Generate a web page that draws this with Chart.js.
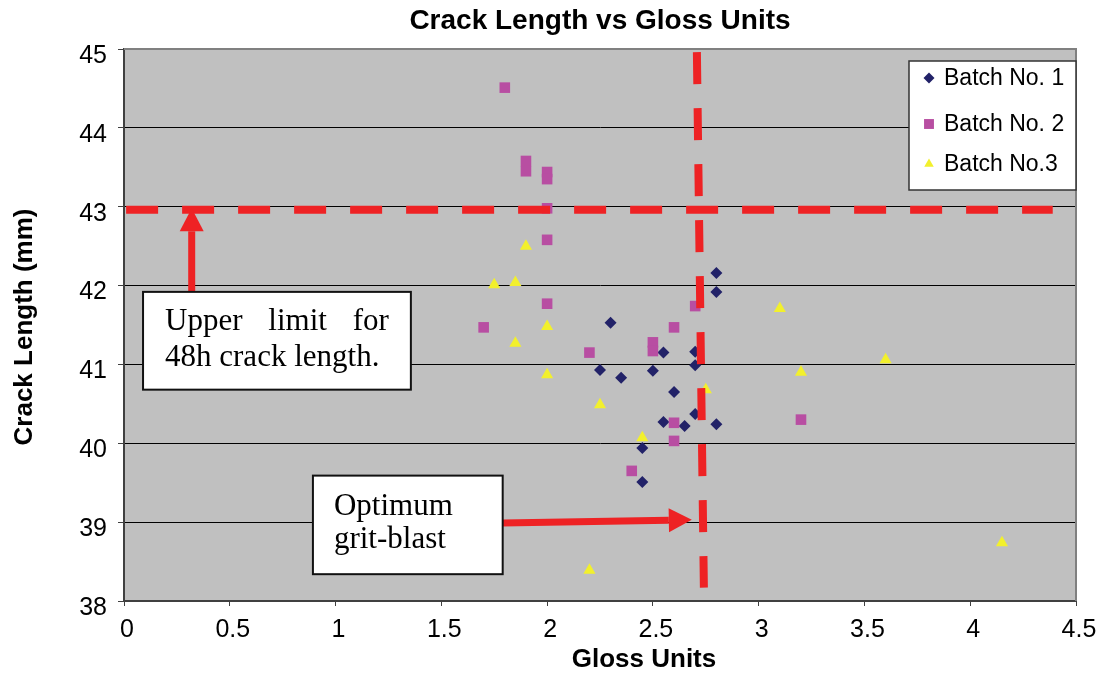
<!DOCTYPE html>
<html>
<head>
<meta charset="utf-8">
<script src="https://cdn.jsdelivr.net/npm/chart.js@4/dist/chart.umd.min.js"></script>
<style>
body { margin: 0; background: #fff; }
</style>
</head>
<body>
<canvas id="crackChart" width="1110" height="677"></canvas>
<script>
// values
var seriesNames = ['Batch No. 1', 'Batch No. 2', 'Batch No.3'];

var batch1Gloss = [2.3, 2.25, 2.35, 2.5, 2.55, 2.7, 2.7, 2.6, 2.55, 2.65, 2.7, 2.8, 2.45, 2.45, 2.8, 2.8];
var batch1Crack = [41.53, 40.93, 40.83, 40.92, 41.15, 41.16, 40.99, 40.65, 40.27, 40.22, 40.37, 40.24, 39.94, 39.51, 42.16, 41.92];

var batch2Gloss = [1.8, 1.9, 1.9, 2.0, 2.0, 2.0, 2.0, 2.0, 1.7, 2.2, 2.5, 2.5, 2.6, 2.7, 2.6, 2.6, 2.4, 3.2];
var batch2Crack = [44.51, 43.58, 43.45, 43.44, 43.35, 42.98, 42.58, 41.77, 41.47, 41.15, 41.28, 41.17, 41.47, 41.74, 40.26, 40.03, 39.65, 40.30];

var batch3Gloss = [1.9, 1.75, 1.85, 2.0, 1.85, 2.0, 2.25, 2.45, 2.75, 2.2, 3.1, 3.2, 3.6, 4.15];
var batch3Crack = [42.50, 42.01, 42.04, 41.48, 41.27, 40.87, 40.49, 40.07, 40.68, 38.39, 41.71, 40.90, 41.06, 38.74];

var upperLimit = 42.96;

function toPoints(xs, ys) {
    var pts = [];
    for (var i = 0; i < xs.length; i++) {
        pts.push({x: xs[i], y: ys[i]});
    }
    return pts;
}

var navy = '#222268';
var pink = '#b84ea2';
var yellow = '#f2f02c';
var red = '#ee2224';

function drawMarker(ctx, style, x, y, r, color) {
    ctx.fillStyle = color;
    ctx.beginPath();
    if (style == 'rectRot') {
        ctx.moveTo(x, y - r); ctx.lineTo(x + r, y); ctx.lineTo(x, y + r); ctx.lineTo(x - r, y);
    } else if (style == 'rect') {
        var s = r * Math.SQRT1_2;
        ctx.rect(x - s, y - s, 2 * s, 2 * s);
    } else {
        ctx.moveTo(x, y - r);
        ctx.lineTo(x + r * 0.866, y + r / 2);
        ctx.lineTo(x - r * 0.866, y + r / 2);
    }
    ctx.closePath();
    ctx.fill();
}

function drawArrow(ctx, x1, y1, x2, y2) {
    var ang = Math.atan2(y2 - y1, x2 - x1);
    var headLen = 23, headHalf = 12;
    var bx = x2 - Math.cos(ang) * headLen, by = y2 - Math.sin(ang) * headLen;
    ctx.strokeStyle = red;
    ctx.fillStyle = red;
    ctx.lineWidth = 7;
    ctx.lineCap = 'butt';
    ctx.setLineDash([]);
    ctx.beginPath();
    ctx.moveTo(x1, y1);
    ctx.lineTo(bx, by);
    ctx.stroke();
    ctx.beginPath();
    ctx.moveTo(x2, y2);
    ctx.lineTo(bx - Math.sin(ang) * headHalf, by + Math.cos(ang) * headHalf);
    ctx.lineTo(bx + Math.sin(ang) * headHalf, by - Math.cos(ang) * headHalf);
    ctx.closePath();
    ctx.fill();
}

function drawBox(ctx, l, t, r, b) {
    ctx.fillStyle = '#fff';
    ctx.fillRect(l, t, r - l, b - t);
    ctx.strokeStyle = '#111';
    ctx.lineWidth = 2;
    ctx.strokeRect(l, t, r - l, b - t);
}

var decor = {
    id: 'decor',
    beforeDraw: function(chart) {
        var ctx = chart.ctx, a = chart.chartArea;
        ctx.save();
        ctx.fillStyle = '#fff';
        ctx.fillRect(0, 0, chart.width, chart.height);
        ctx.fillStyle = '#c0c0c0';
        ctx.fillRect(a.left, a.top, a.right - a.left, a.bottom - a.top);
        ctx.restore();
    },
    afterDraw: function(chart) {
        var ctx = chart.ctx, a = chart.chartArea;
        var xs = chart.scales.x, ys = chart.scales.y;
        ctx.save();

        // top and right edge of plot area
        ctx.strokeStyle = '#808080';
        ctx.lineWidth = 2;
        ctx.beginPath();
        ctx.moveTo(a.left, a.top);
        ctx.lineTo(a.right, a.top);
        ctx.lineTo(a.right, a.bottom);
        ctx.stroke();

        // dashed limit lines
        ctx.strokeStyle = red;
        ctx.lineWidth = 8;
        ctx.lineCap = 'butt';
        ctx.setLineDash([32, 24]);
        ctx.beginPath();
        ctx.moveTo(xs.getPixelForValue(0.01), ys.getPixelForValue(upperLimit));
        ctx.lineTo(xs.getPixelForValue(4.39), ys.getPixelForValue(upperLimit));
        ctx.stroke();
        ctx.beginPath();
        ctx.moveTo(xs.getPixelForValue(2.708), ys.getPixelForValue(44.96));
        ctx.lineTo(xs.getPixelForValue(2.741), ys.getPixelForValue(38.17));
        ctx.stroke();

        // arrows
        drawArrow(ctx, xs.getPixelForValue(0.32), ys.getPixelForValue(41.92),
                  xs.getPixelForValue(0.32), ys.getPixelForValue(42.98));
        drawArrow(ctx, xs.getPixelForValue(1.79), ys.getPixelForValue(38.99),
                  xs.getPixelForValue(2.684), ys.getPixelForValue(39.03));

        // text boxes
        var b1l = xs.getPixelForValue(0.09), b1r = xs.getPixelForValue(1.356);
        var b1t = ys.getPixelForValue(41.92), b1b = ys.getPixelForValue(40.68);
        drawBox(ctx, b1l, b1t, b1r, b1b);
        ctx.fillStyle = '#000';
        ctx.font = '31px "Liberation Serif", serif';
        ctx.textBaseline = 'alphabetic';
        ctx.textAlign = 'left';
        var words = ['Upper', 'limit', 'for'];
        var tl = b1l + 22, tr = b1r - 22;
        var wsum = 0;
        words.forEach(function(w) { wsum += ctx.measureText(w).width; });
        var gap = (tr - tl - wsum) / (words.length - 1);
        var wx = tl;
        words.forEach(function(w) {
            ctx.fillText(w, wx, b1t + 38);
            wx += ctx.measureText(w).width + gap;
        });
        ctx.fillText('48h crack length.', tl, b1t + 74);

        var b2l = xs.getPixelForValue(0.893), b2r = xs.getPixelForValue(1.79);
        var b2t = ys.getPixelForValue(39.59), b2b = ys.getPixelForValue(38.34);
        drawBox(ctx, b2l, b2t, b2r, b2b);
        ctx.fillStyle = '#000';
        ctx.fillText('Optimum', b2l + 21, b2t + 39);
        ctx.fillText('grit-blast', b2l + 21, b2t + 72);

        // legend
        var ll = a.right - 167, lt = a.top + 12;
        ctx.fillStyle = '#fff';
        ctx.fillRect(ll, lt, 167, 129);
        ctx.strokeStyle = '#333';
        ctx.lineWidth = 1.5;
        ctx.strokeRect(ll, lt, 167, 129);
        var rowY = [17, 63, 103];
        var sets = chart.data.datasets;
        ctx.font = '23px "Liberation Sans", Arial, sans-serif';
        ctx.textBaseline = 'middle';
        for (var i = 0; i < sets.length; i++) {
            drawMarker(ctx, sets[i].pointStyle, ll + 20, lt + rowY[i], sets[i].pointStyle == 'rect' ? 7 : 5.5, sets[i].backgroundColor);
            ctx.fillStyle = '#000';
            ctx.fillText(sets[i].label, ll + 35, lt + rowY[i] + 1);
        }

        // titles
        ctx.textAlign = 'center';
        ctx.font = 'bold 28px "Liberation Sans", Arial, sans-serif';
        ctx.fillText('Crack Length vs Gloss Units', (a.left + a.right) / 2, 21);
        ctx.font = 'bold 26px "Liberation Sans", Arial, sans-serif';
        ctx.fillText('Gloss Units', 644, 660);
        ctx.translate(25, (a.top + a.bottom) / 2 + 2);
        ctx.rotate(-Math.PI / 2);
        ctx.fillText('Crack Length (mm)', 0, 0);
        ctx.restore();
    }
};

var ctx = document.getElementById('crackChart');

var crackChart = new Chart(ctx, {
    type: 'scatter',
    data: {
        datasets: [
            {
                label: seriesNames[0],
                data: toPoints(batch1Gloss, batch1Crack),
                pointStyle: 'rectRot',
                pointRadius: 6,
                backgroundColor: navy,
                borderColor: navy,
                borderWidth: 0,
                order: 3
            },
            {
                label: seriesNames[1],
                data: toPoints(batch2Gloss, batch2Crack),
                pointStyle: 'rect',
                pointRadius: 7.5,
                backgroundColor: pink,
                borderColor: pink,
                borderWidth: 0,
                order: 2
            },
            {
                label: seriesNames[2],
                data: toPoints(batch3Gloss, batch3Crack),
                pointStyle: 'triangle',
                pointRadius: 7,
                backgroundColor: yellow,
                borderColor: yellow,
                borderWidth: 0,
                order: 1
            }
        ]
    },
    options: {
        responsive: false,
        animation: false,
        devicePixelRatio: 1,
        layout: {
            padding: {top: 49, right: 34, left: 0, bottom: 0}
        },
        plugins: {
            legend: {display: false},
            title: {display: false},
            tooltip: {enabled: false}
        },
        scales: {
            x: {
                type: 'linear',
                min: 0,
                max: 4.5,
                afterFit: function(scale) { scale.height = 76; },
                ticks: {
                    stepSize: 0.5,
                    color: '#000',
                    padding: 9,
                    labelOffset: 3,
                    font: {family: '"Liberation Sans", Arial, sans-serif', size: 25},
                    callback: function(value) { return String(Math.round(value * 10) / 10); }
                },
                grid: {
                    drawOnChartArea: false,
                    drawTicks: true,
                    tickLength: 5,
                    tickColor: '#404040'
                },
                border: {color: '#404040', width: 2}
            },
            y: {
                min: 38,
                max: 45,
                afterFit: function(scale) { scale.width = 124; },
                ticks: {
                    stepSize: 1,
                    color: '#000',
                    padding: 11,
                    labelOffset: 7,
                    font: {family: '"Liberation Sans", Arial, sans-serif', size: 25}
                },
                grid: {
                    color: '#000',
                    lineWidth: 1,
                    tickLength: 6,
                    tickColor: '#404040'
                },
                border: {color: '#404040', width: 2}
            }
        }
    },
    plugins: [decor]
});
</script>
</body>
</html>
